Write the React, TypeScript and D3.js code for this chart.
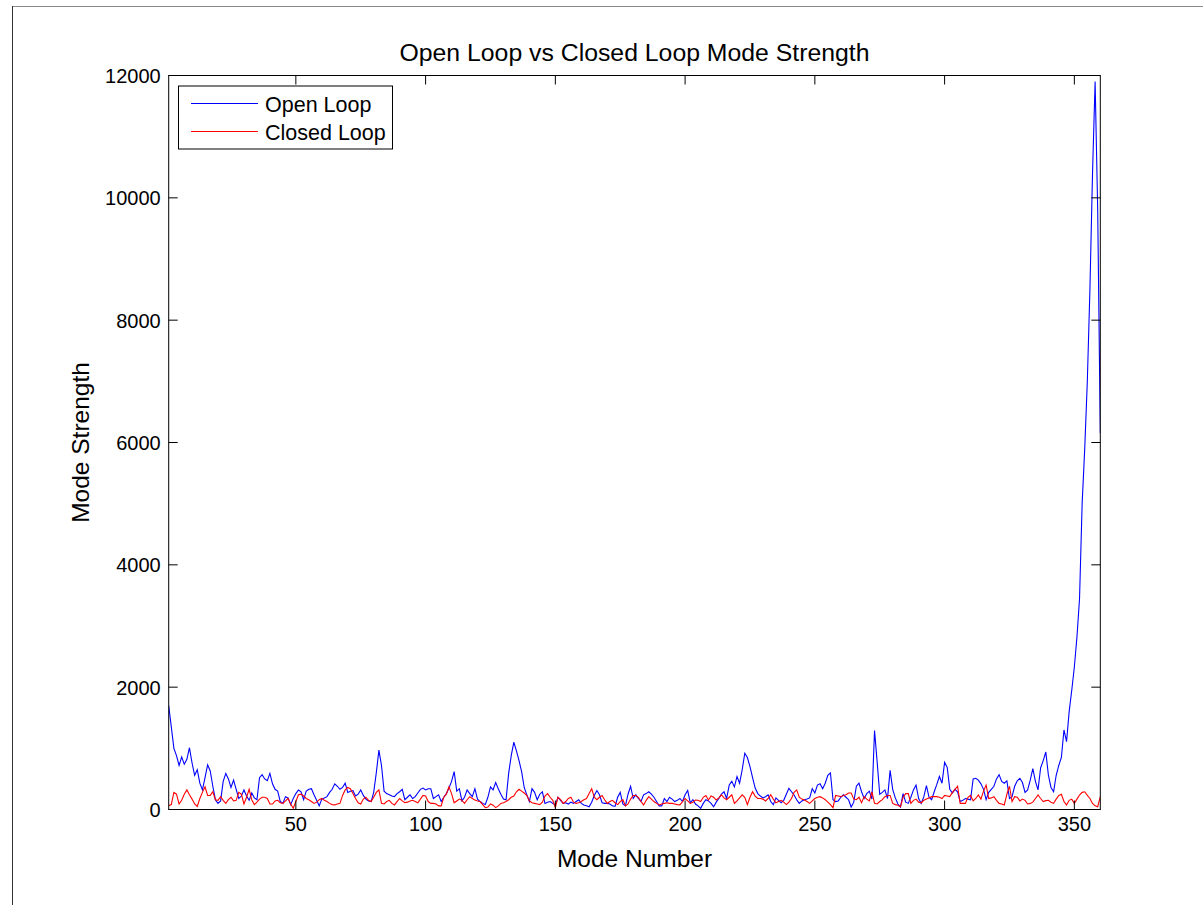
import React from "react";
import * as d3 from "d3";

const title = "Open Loop vs Closed Loop Mode Strength";
const xLabel = "Mode Number";
const yLabel = "Mode Strength";
const seriesNames = ["Open Loop", "Closed Loop"];
const xTicks = [50, 100, 150, 200, 250, 300, 350];
const yTicks = [0, 2000, 4000, 6000, 8000, 10000, 12000];

// Open Loop mode strength, modes 1..360
const openLoop = [
  1700,1350,1000,880,720,860,740,820,1010,760,
  560,650,430,320,520,730,630,380,160,100,
  140,460,590,500,360,480,330,180,220,320,
  220,150,270,190,160,520,570,500,470,590,
  420,330,300,130,100,210,190,80,180,260,
  320,290,160,300,330,340,240,150,60,170,
  190,210,280,330,420,380,330,360,430,280,
  300,310,220,250,320,230,170,140,130,280,
  600,970,720,300,260,240,220,210,260,290,
  330,160,200,240,180,210,270,330,350,320,
  340,340,180,210,240,130,200,260,350,460,
  620,300,340,140,200,320,260,210,340,170,
  130,100,80,200,370,320,440,340,250,170,
  160,590,880,1100,960,800,620,360,240,130,
  340,280,160,250,290,100,120,130,100,75,
  200,150,100,110,90,120,100,130,160,100,
  75,60,45,120,230,310,240,110,100,100,
  90,60,50,200,280,90,60,250,380,180,
  240,180,130,240,260,290,250,200,130,60,
  60,180,130,200,170,130,150,180,130,240,
  310,110,160,90,60,20,100,160,140,100,
  45,120,180,250,290,180,400,460,370,540,
  430,650,920,850,700,520,350,260,220,190,
  210,240,130,80,190,150,110,150,250,345,
  290,237,160,100,140,160,170,190,340,270,
  400,420,340,430,560,600,160,130,140,200,
  240,200,160,40,120,380,430,290,180,260,
  300,170,1290,780,250,280,320,180,640,330,
  190,90,40,260,120,100,200,320,400,180,
  100,210,390,200,160,290,410,540,430,770,
  690,330,270,330,290,130,150,180,170,160,
  500,510,480,420,330,160,280,330,380,500,
  570,460,430,470,180,210,380,470,510,440,
  280,320,480,670,460,320,680,800,940,560,
  360,290,560,720,850,1300,1110,1600,1950,2330,
  2820,3450,5000,5900,7000,8500,10400,11900,9800,6150
];

// Closed Loop mode strength, modes 1..360
const closedLoop = [
  60,80,280,250,90,150,250,320,240,170,
  90,50,180,280,370,230,230,290,160,150,
  210,150,100,160,200,140,150,280,250,90,
  200,330,160,80,120,170,200,200,180,90,
  90,140,150,110,100,140,180,90,20,130,
  240,250,220,180,160,130,100,120,160,180,
  150,130,100,80,75,90,100,230,320,360,
  340,260,180,110,90,170,200,150,130,200,
  280,320,100,90,130,150,100,75,130,180,
  140,110,120,140,150,130,110,170,230,220,
  130,100,100,90,60,60,200,250,370,260,
  110,140,170,150,100,160,210,180,155,140,
  130,80,30,40,90,70,30,60,100,110,
  130,160,200,220,290,330,300,270,230,140,
  110,100,90,80,120,220,260,200,150,30,
  200,160,100,130,180,200,120,100,110,130,
  160,180,260,340,200,160,200,230,160,100,
  130,150,110,80,130,160,60,90,170,230,
  230,200,130,75,150,210,170,130,100,75,
  90,100,110,100,100,90,80,75,130,180,
  140,100,120,155,150,130,200,230,155,220,
  200,155,190,240,190,160,200,240,100,140,
  190,240,200,80,200,290,220,180,180,170,
  140,180,240,170,110,130,150,120,80,120,
  180,280,320,200,170,155,130,100,140,180,
  200,210,190,160,120,80,30,230,220,210,
  230,240,270,270,170,160,200,110,210,170,
  140,290,100,90,130,160,210,230,230,100,
  80,70,45,200,260,260,100,150,170,120,
  110,150,170,190,210,210,210,200,180,230,
  220,210,280,330,380,100,100,100,200,230,
  140,180,237,170,300,400,180,190,210,150,
  100,90,75,250,380,130,210,200,140,170,
  150,90,100,120,180,237,180,130,145,150,
  120,100,170,230,250,130,75,150,170,100,
  170,237,280,290,230,180,100,60,45,210
];

const seriesColors = ["#0000ff", "#ff0000"];

export default function App() {
  const W = 1203, H = 905;
  const left = 168.7, right = 1100.3, top = 75.5, bottom = 809.5;
  const x = d3.scaleLinear().domain([1, 360]).range([left, right]);
  const y = d3.scaleLinear().domain([0, 12000]).range([bottom, top]);
  const line = d3
    .line<number>()
    .x((_, i) => x(i + 1))
    .y((d) => y(d));
  const font = "Arial, 'Liberation Sans', Helvetica, sans-serif";
  const tickLen = 9;
  const legend = { x: 178.5, y: 86, w: 214, h: 63 };
  return (
    <svg
      width={W}
      height={H}
      style={{ position: "absolute", left: 0, top: 0, background: "#fff" }}
      fontFamily={font}
    >
      <rect x={0} y={0} width={W} height={H} fill="#fff" />
      <line x1={12} y1={6.5} x2={W} y2={6.5} stroke="#8a8a8a" strokeWidth={1} />
      <line x1={12.5} y1={6} x2={12.5} y2={H} stroke="#333" strokeWidth={1} />
      <text x={(left + right) / 2} y={61} textAnchor="middle" fontSize={24.8} fill="#000">
        {title}
      </text>
      <defs>
        <clipPath id="plotclip">
          <rect x={left} y={top - 2} width={right - left} height={bottom - top + 4} />
        </clipPath>
      </defs>
      <g clipPath="url(#plotclip)" fill="none" strokeWidth={1.1}>
        <path d={line(openLoop) || ""} stroke={seriesColors[0]} />
        <path d={line(closedLoop) || ""} stroke={seriesColors[1]} />
      </g>
      <rect
        x={left}
        y={top}
        width={right - left}
        height={bottom - top}
        fill="none"
        stroke="#000"
        strokeWidth={1}
      />
      {xTicks.map((t) => (
        <g key={"x" + t}>
          <line x1={x(t)} x2={x(t)} y1={bottom} y2={bottom - tickLen} stroke="#000" />
          <line x1={x(t)} x2={x(t)} y1={top} y2={top + tickLen} stroke="#000" />
          <text x={x(t)} y={831} textAnchor="middle" fontSize={20} fill="#000">
            {t}
          </text>
        </g>
      ))}
      {yTicks.map((t) => (
        <g key={"y" + t}>
          <line x1={left} x2={left + tickLen} y1={y(t)} y2={y(t)} stroke="#000" />
          <line x1={right} x2={right - tickLen} y1={y(t)} y2={y(t)} stroke="#000" />
          <text x={left - 8} y={y(t) + 7.5} textAnchor="end" fontSize={20} fill="#000">
            {t}
          </text>
        </g>
      ))}
      <text x={(left + right) / 2} y={867} textAnchor="middle" fontSize={24.5} fill="#000">
        {xLabel}
      </text>
      <text
        transform={`translate(89, ${(top + bottom) / 2}) rotate(-90)`}
        textAnchor="middle"
        fontSize={24.5}
        fill="#000"
      >
        {yLabel}
      </text>
      <g>
        <rect
          x={legend.x}
          y={legend.y}
          width={legend.w}
          height={legend.h}
          fill="#fff"
          stroke="#000"
          strokeWidth={1}
        />
        {seriesNames.map((name, i) => (
          <g key={name}>
            <line
              x1={191}
              x2={258}
              y1={103.5 + i * 28}
              y2={103.5 + i * 28}
              stroke={seriesColors[i]}
              strokeWidth={1}
            />
            <text x={265} y={111.5 + i * 28.5} fontSize={21.5} fill="#000">
              {name}
            </text>
          </g>
        ))}
      </g>
    </svg>
  );
}
